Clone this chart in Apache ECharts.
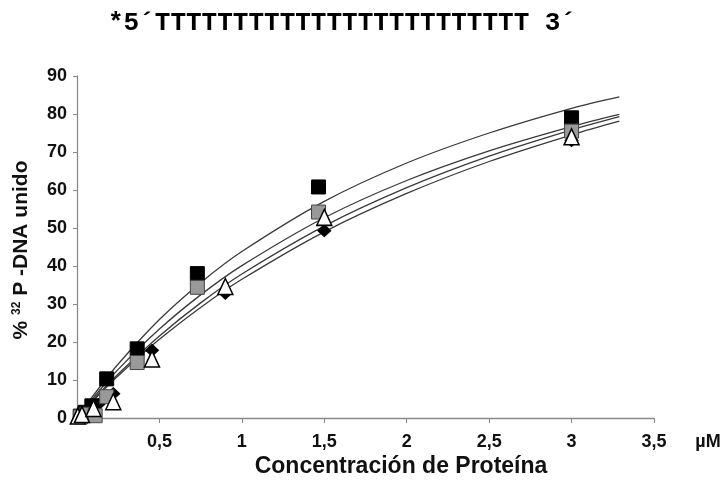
<!DOCTYPE html>
<html>
<head>
<meta charset="utf-8">
<script src="https://cdn.jsdelivr.net/npm/echarts@6/dist/echarts.min.js"></script>
<style>html,body{margin:0;padding:0;background:#fff}#c{width:723px;height:482px}</style>
</head>
<body>
<div id="c"></div>
<script>
// ---- data ----
var titleText = '*5´TTTTTTTTTTTTTTTTTTTTTTTT 3´';
var xTickLabels = {0:'',0.5:'0,5',1:'1',1.5:'1,5',2:'2',2.5:'2,5',3:'3',3.5:'3,5'};
var yTickValues = [0,10,20,30,40,50,60,70,80,90];

var blackSqX = [0.02, 0.05, 0.09, 0.18, 0.365, 0.73, 1.465, 3.0];
var blackSqY = [0.5, 1.5, 3.2, 10.3, 18.2, 38.0, 60.8, 79.0];

var graySqX = [0.02, 0.06, 0.11, 0.18, 0.365, 0.73, 1.465, 3.0];
var graySqY = [0.3, 1.0, 0.6, 5.6, 14.6, 34.4, 54.2, 75.5];

var triX = [0.005, 0.03, 0.1, 0.22, 0.455, 0.9, 1.5, 3.0];
var triY = [0.5, 0.9, 2.5, 4.3, 15.5, 34.6, 52.8, 74.0];

var diaX = [0.03, 0.13, 0.22, 0.455, 0.9, 1.5, 3.0];
var diaY = [1.0, 3.6, 6.4, 17.8, 32.8, 49.3, 73.0];

// fitted curves
var curveX   = [0, 0.05, 0.1, 0.25, 0.5, 0.75, 1, 1.5, 2, 2.5, 3, 3.29];
var curveTop = [0, 3.1, 6.0, 14.2, 25.9, 35.6, 43.8, 57.0, 67.1, 75.0, 81.5, 84.5];
var curveGry = [0, 2.8, 5.4, 12.8, 23.4, 32.4, 40.1, 52.7, 62.5, 70.3, 76.7, 79.9];
var curveTri = [0, 2.5, 4.9, 11.6, 21.6, 30.3, 37.9, 50.5, 60.6, 68.9, 75.8, 79.3];
var curveDia = [0, 2.35, 4.6, 11.1, 20.7, 29.1, 36.5, 49.0, 59.1, 67.5, 74.5, 78.1];

function pairs(xs, ys){ return xs.map(function(x,i){ return [x, ys[i]]; }); }

function curve(ys){
  return {type:'line', data:pairs(curveX, ys), smooth:0.35, symbol:'none', z:1,
    lineStyle:{color:'#3a3a3a', width:1.3}, silent:true, animation:false};
}

var SANS = "'Liberation Sans', Arial, Helvetica, sans-serif";
var MONO = "'Liberation Mono', 'Courier New', Courier, monospace";

var chart = echarts.init(document.getElementById('c'), null, {renderer:'canvas'});
chart.setOption({
  animation:false,
  backgroundColor:'#fff',
  grid:{left:77, right:69, top:76, bottom:64, containLabel:false},
  xAxis:{type:'value', min:0, max:3.5, interval:0.5,
    axisLine:{lineStyle:{color:'#8a8a8a', width:1.3}},
    axisTick:{show:true, length:5, lineStyle:{color:'#8a8a8a'}},
    splitLine:{show:false},
    axisLabel:{margin:15, color:'#111', fontFamily:SANS, fontWeight:'bold', fontSize:18,
      formatter:function(v){ return xTickLabels[v] !== undefined ? xTickLabels[v] : ''; }}
  },
  yAxis:{type:'value', min:0, max:90, interval:10,
    axisLine:{show:true, lineStyle:{color:'#8a8a8a', width:1.3}},
    axisTick:{show:true, length:4, lineStyle:{color:'#8a8a8a'}},
    splitLine:{show:false},
    axisLabel:{margin:10, color:'#111', fontFamily:SANS, fontWeight:'bold', fontSize:18,
      formatter:function(v){ return yTickValues.indexOf(v) >= 0 ? String(v) : ''; }}
  },
  graphic:[
    {type:'text', x:108, y:23, z:10,
      style:{text:titleText, align:'left', verticalAlign:'middle',
        fontFamily:MONO, fontWeight:'bold', fontSize:26, fill:'#000'}},
    {type:'text', x:21, y:250, rotation:Math.PI/2, z:10,
      style:{text:'{a|% }{b|32}{a| P -DNA unido}', align:'center', verticalAlign:'middle', rich:{
        a:{fontFamily:SANS, fontWeight:'bold', fontSize:21, fill:'#111'},
        b:{fontFamily:SANS, fontWeight:'bold', fontSize:12, fill:'#111', verticalAlign:'top', padding:[0,0,8,0]}
      }}},
    {type:'text', x:401, y:467, z:10,
      style:{text:'Concentración de Proteína', align:'center', verticalAlign:'middle',
        fontFamily:SANS, fontWeight:'bold', fontSize:23, fill:'#111'}},
    {type:'text', x:708, y:442, z:10,
      style:{text:'µM', align:'center', verticalAlign:'middle',
        fontFamily:SANS, fontWeight:'bold', fontSize:18, fill:'#111'}}
  ],
  series:[
    curve(curveTop), curve(curveGry), curve(curveTri), curve(curveDia),
    {type:'scatter', data:pairs(diaX, diaY), symbol:'diamond', symbolSize:[13,12], z:3,
      itemStyle:{color:'#000', borderColor:'#000', borderWidth:1, opacity:1}},
    {type:'scatter', data:pairs(blackSqX, blackSqY), symbol:'rect', symbolSize:14, z:4,
      itemStyle:{color:'#000', borderColor:'#000', borderWidth:1, opacity:1}},
    {type:'scatter', data:pairs(graySqX, graySqY), symbol:'rect', symbolSize:14, z:5,
      itemStyle:{color:'#999', borderColor:'#444', borderWidth:1, opacity:1}},
    {type:'scatter', data:pairs(triX, triY), symbol:'triangle', symbolSize:[15,16], z:6,
      itemStyle:{color:'#fff', borderColor:'#000', borderWidth:1.5, opacity:1}}
  ]
});
</script>
</body>
</html>
